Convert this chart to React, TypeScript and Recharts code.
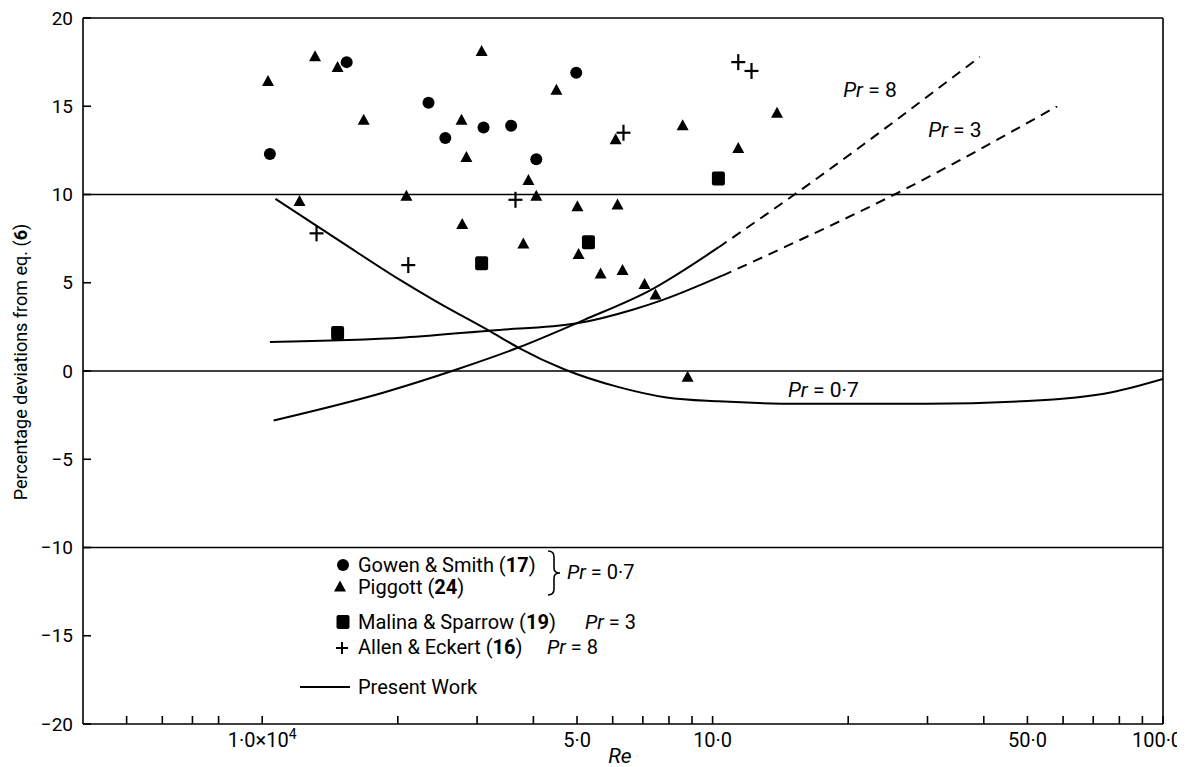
import React from "react"
import {
    ComposedChart,
    XAxis,
    YAxis,
    Scatter,
    Line,
    ReferenceLine,
    ReferenceDot,
    Legend,
    Label,
} from "recharts"

const FONT = 'Roboto, "Liberation Sans", sans-serif'
const W = 1177
const H = 759

// Re given in units of 10^4, deviation in %
const gowenSmith = [
    { x: 1.04, y: 12.3 }, { x: 1.54, y: 17.5 }, { x: 2.34, y: 15.2 }, { x: 2.55, y: 13.2 },
    { x: 3.1, y: 13.8 }, { x: 3.57, y: 13.9 }, { x: 4.06, y: 12.0 }, { x: 4.98, y: 16.9 },
]

const piggott = [
    { x: 1.03, y: 16.4 }, { x: 1.21, y: 9.6 }, { x: 1.31, y: 17.8 }, { x: 1.47, y: 17.2 },
    { x: 1.68, y: 14.2 }, { x: 2.09, y: 9.9 }, { x: 2.77, y: 14.2 }, { x: 2.78, y: 8.3 },
    { x: 2.84, y: 12.1 }, { x: 3.07, y: 18.1 }, { x: 3.8, y: 7.2 }, { x: 3.9, y: 10.8 },
    { x: 4.06, y: 9.9 }, { x: 4.5, y: 15.9 }, { x: 5.01, y: 9.3 }, { x: 5.04, y: 6.6 },
    { x: 5.64, y: 5.5 }, { x: 6.09, y: 13.1 }, { x: 6.15, y: 9.4 }, { x: 6.31, y: 5.7 },
    { x: 7.06, y: 4.9 }, { x: 7.47, y: 4.3 }, { x: 8.58, y: 13.9 }, { x: 8.8, y: -0.35 },
    { x: 11.4, y: 12.6 }, { x: 13.9, y: 14.6 },
]

const malinaSparrow = [
    { x: 1.47, y: 2.15 }, { x: 3.07, y: 6.1 }, { x: 5.3, y: 7.3 }, { x: 10.3, y: 10.9 },
]

const allenEckert = [
    { x: 1.32, y: 7.8 }, { x: 2.11, y: 6.0 }, { x: 3.65, y: 9.7 }, { x: 6.34, y: 13.5 },
    { x: 11.4, y: 17.5 }, { x: 12.2, y: 17.0 },
]

// present work curves
const pr07Curve = [
    { x: 1.07, y: 9.75 }, { x: 1.5, y: 7.3 }, { x: 2.01, y: 5.2 }, { x: 2.41, y: 4.0 },
    { x: 3.23, y: 2.2 }, { x: 3.72, y: 1.3 }, { x: 4.68, y: 0.1 }, { x: 6.16, y: -0.9 },
    { x: 7.9, y: -1.5 }, { x: 10.3, y: -1.72 }, { x: 15.7, y: -1.85 }, { x: 30, y: -1.85 },
    { x: 50, y: -1.7 }, { x: 77, y: -1.2 }, { x: 100, y: -0.45 },
]
const pr3Solid = [
    { x: 1.04, y: 1.65 }, { x: 2.07, y: 1.9 }, { x: 3.23, y: 2.3 }, { x: 5.0, y: 2.7 },
    { x: 6.7, y: 3.5 }, { x: 7.7, y: 4.0 }, { x: 10.5, y: 5.4 },
]
const pr3Dashed = [
    { x: 10.5, y: 5.4 }, { x: 14.4, y: 7.0 }, { x: 25.8, y: 10.1 }, { x: 58.2, y: 15.0 },
]
const pr8Solid = [
    { x: 1.06, y: -2.8 }, { x: 1.87, y: -1.2 }, { x: 2.71, y: 0.1 }, { x: 3.68, y: 1.3 },
    { x: 5.19, y: 2.9 }, { x: 7.3, y: 4.6 }, { x: 10.3, y: 7.0 },
]
const pr8Dashed = [
    { x: 10.3, y: 7.0 }, { x: 15.2, y: 10.0 }, { x: 39.2, y: 17.8 },
]

const xTicks = [0.5, 0.6, 0.7, 0.8, 1, 2, 3, 4, 5, 6, 7, 8, 9, 10, 20, 30, 40, 50, 60, 70, 80, 90, 100]
const xTickLabels: Record<number, string> = { 1: "1·0×10", 5: "5·0", 10: "10·0", 50: "50·0", 100: "100·0" }
const yTicks = [-20, -15, -10, -5, 0, 5, 10, 15, 20]
const refLevels = [10, 0, -10]

const ink = "#000"

const CircleDot = (p: any) => <circle cx={p.cx} cy={p.cy} r={6} fill={ink} />
const TriDot = (p: any) => (
    <path d={`M${p.cx} ${p.cy - 6.5}L${p.cx + 6} ${p.cy + 4.5}L${p.cx - 6} ${p.cy + 4.5}Z`} fill={ink} />
)
const SquareDot = (p: any) => (
    <rect x={p.cx - 6.5} y={p.cy - 7} width={13} height={14} rx={2} fill={ink} />
)
const PlusDot = (p: any) => (
    <g stroke={ink} strokeWidth={2.2}>
        <line x1={p.cx - 7} x2={p.cx + 7} y1={p.cy} y2={p.cy} />
        <line x1={p.cx} x2={p.cx} y1={p.cy - 8} y2={p.cy + 8} />
    </g>
)

function XTick(props: any) {
    const { x, y, payload } = props
    const label = xTickLabels[payload.value]
    if (!label) return null
    // last label sits at the right edge, nudge it in
    const dx = payload.value === 100 ? -6 : 0
    return (
        <text x={x + dx} y={y + 23} textAnchor="middle" fontSize={20} fontFamily={FONT} fill={ink}>
            {label}
            {payload.value === 1 && (
                <tspan fontSize={14} dy={-8}>4</tspan>
            )}
        </text>
    )
}

function YTitle() {
    const cx = 12
    const cy = 354
    return (
        <text
            x={cx}
            y={cy}
            transform={`rotate(-90 ${cx} ${cy})`}
            textAnchor="middle"
            dominantBaseline="central"
            fontSize={18}
            fontFamily={FONT}
            fill={ink}
        >
            Percentage deviations from eq. (<tspan fontWeight="bold">6</tspan>)
        </text>
    )
}

function XTitle(props: any) {
    const vb = props.viewBox
    return (
        <text
            x={vb.x + vb.width / 2 - 3}
            y={vb.y + vb.height - 4}
            textAnchor="middle"
            fontSize={21}
            fontStyle="italic"
            fontFamily={FONT}
            fill={ink}
        >
            Re
        </text>
    )
}

function PrLabel(props: any) {
    const vb = props.viewBox
    return (
        <text x={vb.x} y={vb.y} dominantBaseline="central" fontSize={21} fontFamily={FONT} fill={ink}>
            <tspan fontStyle="italic">Pr</tspan> = {props.pr}
        </text>
    )
}

function LegendBox() {
    const t = { fontSize: 20, fontFamily: FONT, fill: ink }
    return (
        <svg width={400} height={170}>
            <circle cx={55} cy={17} r={6} fill={ink} />
            <text x={70} y={24} {...t}>
                Gowen &amp; Smith (<tspan fontWeight="bold">17</tspan>)
            </text>
            <path d="M52 32.5L58 43.5L46 43.5Z" fill={ink} />
            <text x={70} y={46} {...t}>
                Piggott (<tspan fontWeight="bold">24</tspan>)
            </text>
            <path
                d="M260 3 Q266 3 266 9 L266 20 Q266 25 272 25 Q266 25 266 30 L266 41 Q266 47 260 47"
                stroke={ink}
                strokeWidth={1.6}
                fill="none"
            />
            <text x={279} y={31} {...t}>
                <tspan fontStyle="italic">Pr</tspan> = 0·7
            </text>
            <rect x={48.5} y={67} width={13} height={14} rx={2} fill={ink} />
            <text x={70} y={81} {...t}>
                Malina &amp; Sparrow (<tspan fontWeight="bold">19</tspan>)
            </text>
            <text x={297} y={81} {...t}>
                <tspan fontStyle="italic">Pr</tspan> = 3
            </text>
            <g stroke={ink} strokeWidth={2}>
                <line x1={48} x2={60} y1={100} y2={100} />
                <line x1={54} x2={54} y1={94} y2={106} />
            </g>
            <text x={70} y={106} {...t}>
                Allen &amp; Eckert (<tspan fontWeight="bold">16</tspan>)
            </text>
            <text x={259} y={106} {...t}>
                <tspan fontStyle="italic">Pr</tspan> = 8
            </text>
            <line x1={12} x2={62} y1={139} y2={139} stroke={ink} strokeWidth={1.8} />
            <text x={70} y={146} {...t}>
                Present Work
            </text>
        </svg>
    )
}

const axisLine = { stroke: ink, strokeWidth: 1.6 }

export default function App() {
    return (
        <div style={{ width: W, height: H, fontFamily: FONT }}>
            <ComposedChart width={W} height={H} margin={{ top: 0, right: 0, bottom: 0, left: 0 }}>
                <XAxis
                    xAxisId="top"
                    orientation="top"
                    type="number"
                    dataKey="x"
                    scale="log"
                    domain={[0.4, 100]}
                    allowDataOverflow
                    ticks={xTicks}
                    interval={0}
                    tick={false}
                    tickSize={-8}
                    height={10}
                    axisLine={axisLine}
                    tickLine={axisLine}
                />
                <XAxis
                    type="number"
                    dataKey="x"
                    scale="log"
                    domain={[0.4, 100]}
                    allowDataOverflow
                    ticks={xTicks}
                    interval={0}
                    tick={<XTick />}
                    tickSize={-8}
                    tickMargin={8}
                    height={43}
                    axisLine={axisLine}
                    tickLine={axisLine}
                >
                    <Label content={<XTitle />} />
                </XAxis>
                <YAxis
                    type="number"
                    dataKey="y"
                    domain={[-20, 20]}
                    allowDataOverflow
                    ticks={yTicks}
                    interval={0}
                    tickSize={-8}
                    tickMargin={18}
                    width={75}
                    axisLine={axisLine}
                    tickLine={axisLine}
                    tick={{ fill: ink, fontSize: 19, fontFamily: FONT }}
                    tickFormatter={(v: number) => (v < 0 ? "−" + Math.abs(v) : String(v))}
                >
                    <Label content={<YTitle />} />
                </YAxis>
                <YAxis
                    yAxisId="right"
                    orientation="right"
                    type="number"
                    domain={[-20, 20]}
                    allowDataOverflow
                    ticks={yTicks}
                    interval={0}
                    tick={false}
                    tickSize={-8}
                    width={22}
                    axisLine={axisLine}
                    tickLine={axisLine}
                />

                {refLevels.map((v) => (
                    <ReferenceLine key={v} y={v} stroke={ink} strokeWidth={1.5} />
                ))}

                <Line data={pr07Curve} dataKey="y" type="monotone" stroke={ink} strokeWidth={2} dot={false} activeDot={false} isAnimationActive={false} />
                <Line data={pr3Solid} dataKey="y" type="monotone" stroke={ink} strokeWidth={2} dot={false} activeDot={false} isAnimationActive={false} />
                <Line data={pr3Dashed} dataKey="y" type="monotone" stroke={ink} strokeWidth={2} strokeDasharray="10 7" dot={false} activeDot={false} isAnimationActive={false} />
                <Line data={pr8Solid} dataKey="y" type="monotone" stroke={ink} strokeWidth={2} dot={false} activeDot={false} isAnimationActive={false} />
                <Line data={pr8Dashed} dataKey="y" type="monotone" stroke={ink} strokeWidth={2} strokeDasharray="10 7" dot={false} activeDot={false} isAnimationActive={false} />

                <Scatter data={gowenSmith} shape={<CircleDot />} isAnimationActive={false} />
                <Scatter data={piggott} shape={<TriDot />} isAnimationActive={false} />
                <Scatter data={malinaSparrow} shape={<SquareDot />} isAnimationActive={false} />
                <Scatter data={allenEckert} shape={<PlusDot />} isAnimationActive={false} />

                <ReferenceDot x={19.5} y={15.9} r={0} fill="none" stroke="none" label={<PrLabel pr="8" />} />
                <ReferenceDot x={30.1} y={13.65} r={0} fill="none" stroke="none" label={<PrLabel pr="3" />} />
                <ReferenceDot x={14.7} y={-1.08} r={0} fill="none" stroke="none" label={<PrLabel pr="0·7" />} />

                <Legend
                    content={<LegendBox />}
                    layout="vertical"
                    align="center"
                    verticalAlign="middle"
                    wrapperStyle={{ position: "absolute", left: 280, top: 540, width: 400, height: 170 }}
                />
            </ComposedChart>
        </div>
    )
}
